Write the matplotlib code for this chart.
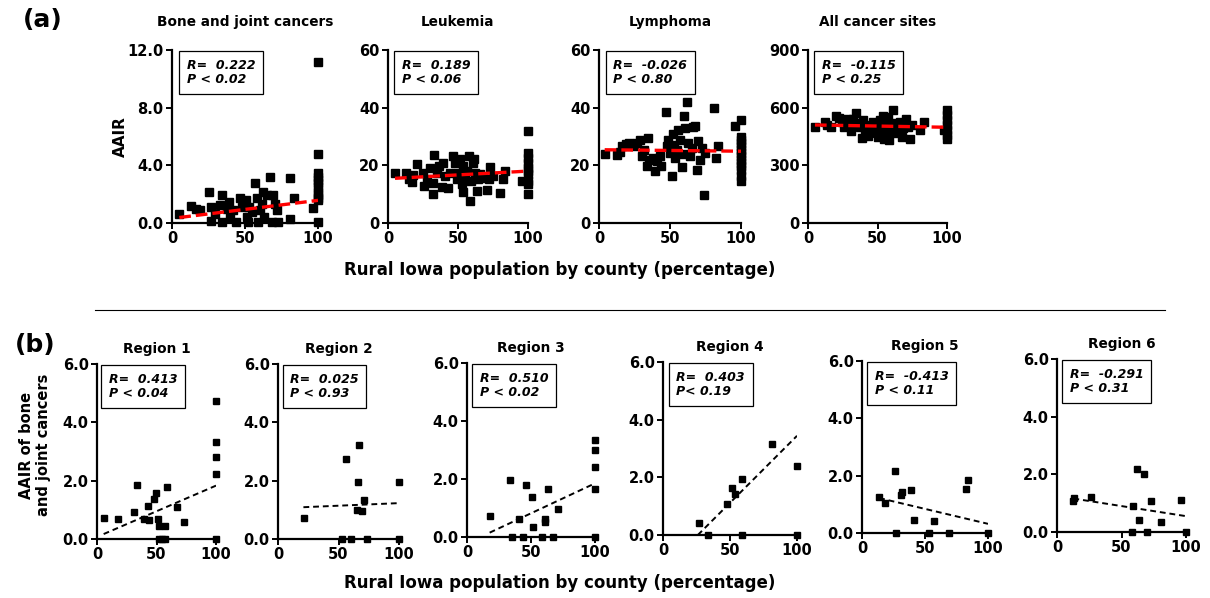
import numpy as np
import matplotlib
matplotlib.use("Agg")
import matplotlib.pyplot as plt

# the reference text is wide (stretched Arial), DejaVu Sans Bold matches the widths better
plt.rcParams['font.family'] = ['DejaVu Sans']
plt.rcParams['font.weight'] = 'bold'

W, H = 1210, 598

# ──────────────────────────────────────────────
# Data — panel (a): AAIR vs rural % by county
# ──────────────────────────────────────────────
top_titles = ["Bone and joint cancers", "Leukemia", "Lymphoma", "All cancer sites"]
top_stats = [("0.222", "0.02"), ("0.189", "0.06"), ("-0.026", "0.80"), ("-0.115", "0.25")]
top_yticks = [[0, 4, 8, 12], [0, 20, 40, 60], [0, 20, 40, 60], [0, 300, 600, 900]]
top_yfmt = ["{:.1f}", "{:.0f}", "{:.0f}", "{:.0f}"]

bone_x = [4.8, 13.3, 16.3, 19, 25.5, 27, 27, 29.4, 32.8, 34, 34, 37.4, 39.2, 39.7, 41.5,
          43.8, 46.6, 47.7, 50.7, 51.6, 52.3, 53, 54.6, 56.9, 58, 59.2, 60.3, 61.5, 62.6,
          63, 64.9, 67.2, 68.3, 69, 70.6, 71.8, 72.9, 81, 81, 83.3, 96.6,
          100, 100, 100, 100, 100, 100, 100, 100, 100, 100, 100, 100]
bone_y = [0.64, 1.15, 0.99, 0.87, 2.16, 1.1, 0.16, 0.64, 1.22, 1.93, 0.05, 0.99, 1.46, 0.4, 0.87,
          0.05, 1.76, 1.1, 1.58, 0.4, 0.05, 1.1, 0.75, 2.8, 1.76, 0.05, 0.87, 1.34, 2.16,
          0.4, 1.93, 3.22, 0.05, 1.93, 1.34, 0.87, 0.05, 3.1, 0.28, 1.76, 1.06,
          11.2, 4.8, 3.46, 3.22, 3.0, 2.75, 2.5, 2.16, 1.93, 1.7, 1.58, 0.05]

leuk_x = [5.2, 13, 14.7, 17, 18.2, 21, 25, 25.8, 27.7, 30.1, 32, 32.5, 33, 34.8, 36.7, 38.4,
          39.6, 40.8, 43.1, 44.3, 46.2, 47.9, 49, 50.2, 51.4, 52.6, 53.3, 53.8, 55, 56.2,
          58, 58.5, 59, 60.4, 61.4, 62.3, 63.3, 64.5, 65.6, 68, 70.4, 72.3, 73.2, 75.1,
          80.3, 82.2, 83.4, 96,
          100, 100, 100, 100, 100, 100, 100, 100, 100, 100]
leuk_y = [17.4, 17.2, 15.1, 14.2, 16.5, 20.3, 17.4, 12.8, 15.1, 19.2, 14, 9.9, 23.7, 17.4, 19.8,
          12.6, 20.7, 16.3, 12.2, 17.4, 23.3, 20.9, 15.1, 17.4, 22.1, 13.4, 10.7, 19.8, 15.7,
          18, 23.3, 7.6, 14.5, 20.9, 22.3, 17.4, 11, 15.1, 16.9, 15.7, 11.6, 15.1, 19.5, 16.3,
          10.5, 15.1, 18, 14.5,
          32, 24.4, 22.7, 20.9, 19.2, 18, 16.9, 14.5, 13.4, 10.1]

lymph_x = [4, 13, 14.6, 16.5, 18.9, 21.2, 24.5, 26.9, 28.8, 30, 31.6, 33.5, 34.7, 35.4, 37.7,
           39.4, 41, 42.9, 43.4, 47.2, 47.6, 48.8, 50, 51.2, 52.4, 52.8, 53.5, 54.7, 55.9,
           57, 58.2, 59.4, 59.9, 60.6, 61.8, 63, 64.2, 65.3, 66.5, 67.7, 68.9, 70, 70.8,
           72.4, 73.6, 74.8, 81.1, 82.5, 83.5, 96,
           100, 100, 100, 100, 100, 100, 100, 100, 100, 100, 100, 100, 100, 100]
lymph_y = [23.9, 23.6, 24.5, 26.6, 27.4, 27.7, 26.6, 27.9, 28.9, 23.1, 25.4, 19.7, 29.5, 21.9,
           22.5, 17.9, 21.4, 23.1, 19.7, 38.4, 26.6, 28.9, 24.3, 16.4, 30.7, 27.1, 22.5, 25.4,
           32.3, 28.9, 19.4, 24, 37.2, 32.9, 41.9, 27.7, 23.1, 26, 33.3, 33.5, 18.5, 28.3,
           21.9, 26, 9.8, 24.3, 39.8, 22.5, 26.6, 33.7,
           35.6, 30, 28.9, 27.7, 26.6, 25.4, 24.3, 23.1, 21.9, 20.8, 19.7, 18.5, 16.2, 14.4]

all_x = [4.8, 12, 13.7, 16.9, 20, 22.4, 24.8, 25.8, 27.7, 30.1, 30.6, 32.5, 34.5, 35.4, 37.3,
         38.6, 39.8, 41, 42.2, 43.4, 45, 47, 48.2, 49.4, 50.6, 51.8, 53, 53.7, 54.7, 55.4,
         56.6, 57.8, 58.6, 59.5, 61, 62, 63.4, 64.6, 66.3, 67.5, 68.7, 70.6, 71.6, 73.5,
         74.7, 80.7, 83.1, 97.6,
         100, 100, 100, 100, 100, 100, 100]
all_y = [498, 524, 510, 502, 559, 545, 528, 502, 540, 510, 481, 540, 574, 519, 498,
         441, 536, 476, 510, 453, 484, 528, 502, 467, 450, 536, 493, 557, 436, 476,
         528, 554, 433, 502, 588, 467, 519, 484, 528, 450, 493, 540, 498, 438,
         510, 484, 528, 484,
         588, 562, 536, 510, 484, 458, 436]

top_x = [bone_x, leuk_x, lymph_x, all_x]
top_y = [bone_y, leuk_y, lymph_y, all_y]
# red regression lines (endpoints)
top_fit_x = [[5, 100], [5, 100], [4, 100], [5, 100]]
top_fit_y = [[0.38, 1.57], [15.5, 18.0], [25.4, 24.9], [510, 498]]

# ──────────────────────────────────────────────
# Data — panel (b): bone & joint AAIR by region
# ──────────────────────────────────────────────
reg_titles = ["Region 1", "Region 2", "Region 3", "Region 4", "Region 5", "Region 6"]
reg_stats = [("R=  0.413", "P < 0.04"), ("R=  0.025", "P < 0.93"), ("R=  0.510", "P < 0.02"),
             ("R=  0.403", "P< 0.19"), ("R=  -0.413", "P < 0.11"), ("R=  -0.291", "P < 0.31")]

r1_x = [5.6, 17.4, 30.8, 34, 42.6, 39.8, 44, 48, 49.3, 51, 52.4, 52.4, 57.4, 58.8, 57.4, 55,
        67.5, 72.8, 100, 100, 100, 100, 100]
r1_y = [0.71, 0.69, 0.92, 1.84, 1.13, 0.69, 0.65, 1.37, 1.59, 0.68, 0.46, 0, 0.46, 1.80, 0, 0,
        1.11, 0.57, 4.74, 3.32, 2.81, 2.23, 0]
r2_x = [21.1, 56.6, 67.3, 66.2, 65.7, 69.8, 71.4, 99.7, 52.7, 60.7, 73.9, 100]
r2_y = [0.73, 2.74, 3.22, 1.95, 1.0, 0.96, 1.33, 1.95, 0, 0, 0, 0]
r3_x = [17.7, 33.8, 40.5, 46.2, 50.4, 51.4, 61.3, 61.3, 62.9, 71.2, 100, 100, 100, 100,
        35, 44, 58.4, 66.8, 100]
r3_y = [0.72, 1.96, 0.61, 1.81, 1.38, 0.35, 0.63, 0.52, 1.64, 0.98, 3.34, 3.0, 2.4, 1.67,
        0, 0, 0, 0, 0]
r4_x = [27, 48, 51.8, 54, 59.3, 81.3, 100, 33.8, 59.3, 100]
r4_y = [0.43, 1.09, 1.62, 1.41, 1.93, 3.15, 2.38, 0, 0, 0]
r5_x = [13.6, 18.4, 25.8, 30.6, 31.9, 39.1, 41, 57.4, 82.2, 83.8, 27, 53, 69.4, 100]
r5_y = [1.25, 1.04, 2.16, 1.31, 1.43, 1.49, 0.45, 0.42, 1.54, 1.84, 0, 0, 0, 0]
r6_x = [12.7, 13.5, 26.5, 58.7, 62.3, 67.8, 63.9, 73.2, 80.3, 95.8, 57.9, 70, 100]
r6_y = [1.09, 1.17, 1.22, 0.89, 2.17, 2.0, 0.43, 1.08, 0.36, 1.11, 0, 0, 0]

reg_x = [r1_x, r2_x, r3_x, r4_x, r5_x, r6_x]
reg_y = [r1_y, r2_y, r3_y, r4_y, r5_y, r6_y]
reg_fit_x = [[5.6, 100], [21, 100], [17.7, 100], [26, 100], [13.6, 100], [12.7, 100]]
reg_fit_y = [[0.17, 1.83], [1.09, 1.23], [0.15, 1.85], [0.0, 3.44], [1.22, 0.32], [1.16, 0.55]]

# axes boxes in pixels: left, right, top, bottom
top_boxes = [(172, 318, 50, 223), (388, 528, 50, 223), (599, 741, 50, 223), (808, 947, 50, 223)]
reg_boxes = [(97, 216, 364, 539), (278, 399, 364, 539), (467, 595, 363, 537),
             (663, 797, 362, 535), (862, 988, 361, 533), (1057, 1186, 359, 532)]


def add_axes(fig, box):
    l, r, t, b = box
    return fig.add_axes([l / W, 1 - b / H, (r - l) / W, (b - t) / H])


def style(ax, yticks, fmt, fs):
    ax.set_xlim(0, 100)
    ax.set_ylim(yticks[0], yticks[-1])
    ax.set_xticks([0, 50, 100])
    ax.set_yticks(yticks)
    ax.set_yticklabels([fmt.format(v) for v in yticks])
    for s in ["top", "right"]:
        ax.spines[s].set_visible(False)
    for s in ["left", "bottom"]:
        ax.spines[s].set_linewidth(1.6)
    ax.tick_params(direction="out", length=4, width=1.4, labelsize=fs, pad=2)
    for lab in ax.get_xticklabels() + ax.get_yticklabels():
        lab.set_fontweight("bold")


def stat_box(ax, text, fs):
    ax.text(0.1, 0.95, text, transform=ax.transAxes, ha="left", va="top",
            fontsize=fs, fontstyle="italic", fontweight="bold", linespacing=1.15,
            bbox=dict(boxstyle="square,pad=0.6", fc="white", ec="black", lw=0.9))


fig = plt.figure(figsize=(W / 100, H / 100), dpi=100)

# ── panel (a) ─────────────────────────────────
for i in range(4):
    ax = add_axes(fig, top_boxes[i])
    ax.plot(top_x[i], top_y[i], "s", color="black", ms=5.5, clip_on=False, zorder=3)
    ax.plot(top_fit_x[i], top_fit_y[i], "--", color="red", lw=2.4, dashes=(3.5, 1.5), zorder=4)
    style(ax, top_yticks[i], top_yfmt[i], 10.5)
    ax.set_title(top_titles[i], fontsize=9.8, fontweight="bold", pad=17)
    r, p = top_stats[i]
    stat_box(ax, f"R=  {r}\nP < {p}", 9)

fig.text(120 / W, 1 - 137 / H, "AAIR", rotation=90, ha="center", va="center",
         fontsize=11, fontweight="bold")
fig.text(560 / W, 1 - 270 / H, "Rural Iowa population by county (percentage)",
         ha="center", va="center", fontsize=12, fontweight="bold")
fig.text(43 / W, 1 - 20 / H, "(a)", ha="center", va="center", fontsize=18, fontweight="bold")

fig.add_artist(plt.Line2D([95 / W, 1165 / W], [1 - 310 / H, 1 - 310 / H],
                          color="black", lw=0.8))

# ── panel (b) ─────────────────────────────────
for i in range(6):
    ax = add_axes(fig, reg_boxes[i])
    ax.plot(reg_x[i], reg_y[i], "s", color="black", ms=5, clip_on=False, zorder=3)
    ax.plot(reg_fit_x[i], reg_fit_y[i], "--", color="black", lw=1.4, dashes=(3, 2), zorder=4)
    style(ax, [0, 2, 4, 6], "{:.1f}", 10.5)
    ax.set_title(reg_titles[i], fontsize=9.8, fontweight="bold", pad=8)
    stat_box(ax, "\n".join(reg_stats[i]), 9)

fig.text(35 / W, 1 - 445 / H, "AAIR of bone\nand joint cancers", rotation=90,
         ha="center", va="center", fontsize=10.5, fontweight="bold", linespacing=1.1)
fig.text(560 / W, 1 - 583 / H, "Rural Iowa population by county (percentage)",
         ha="center", va="center", fontsize=12, fontweight="bold")
fig.text(35 / W, 1 - 345 / H, "(b)", ha="center", va="center", fontsize=18, fontweight="bold")

fig.savefig("out.png", dpi=100)
